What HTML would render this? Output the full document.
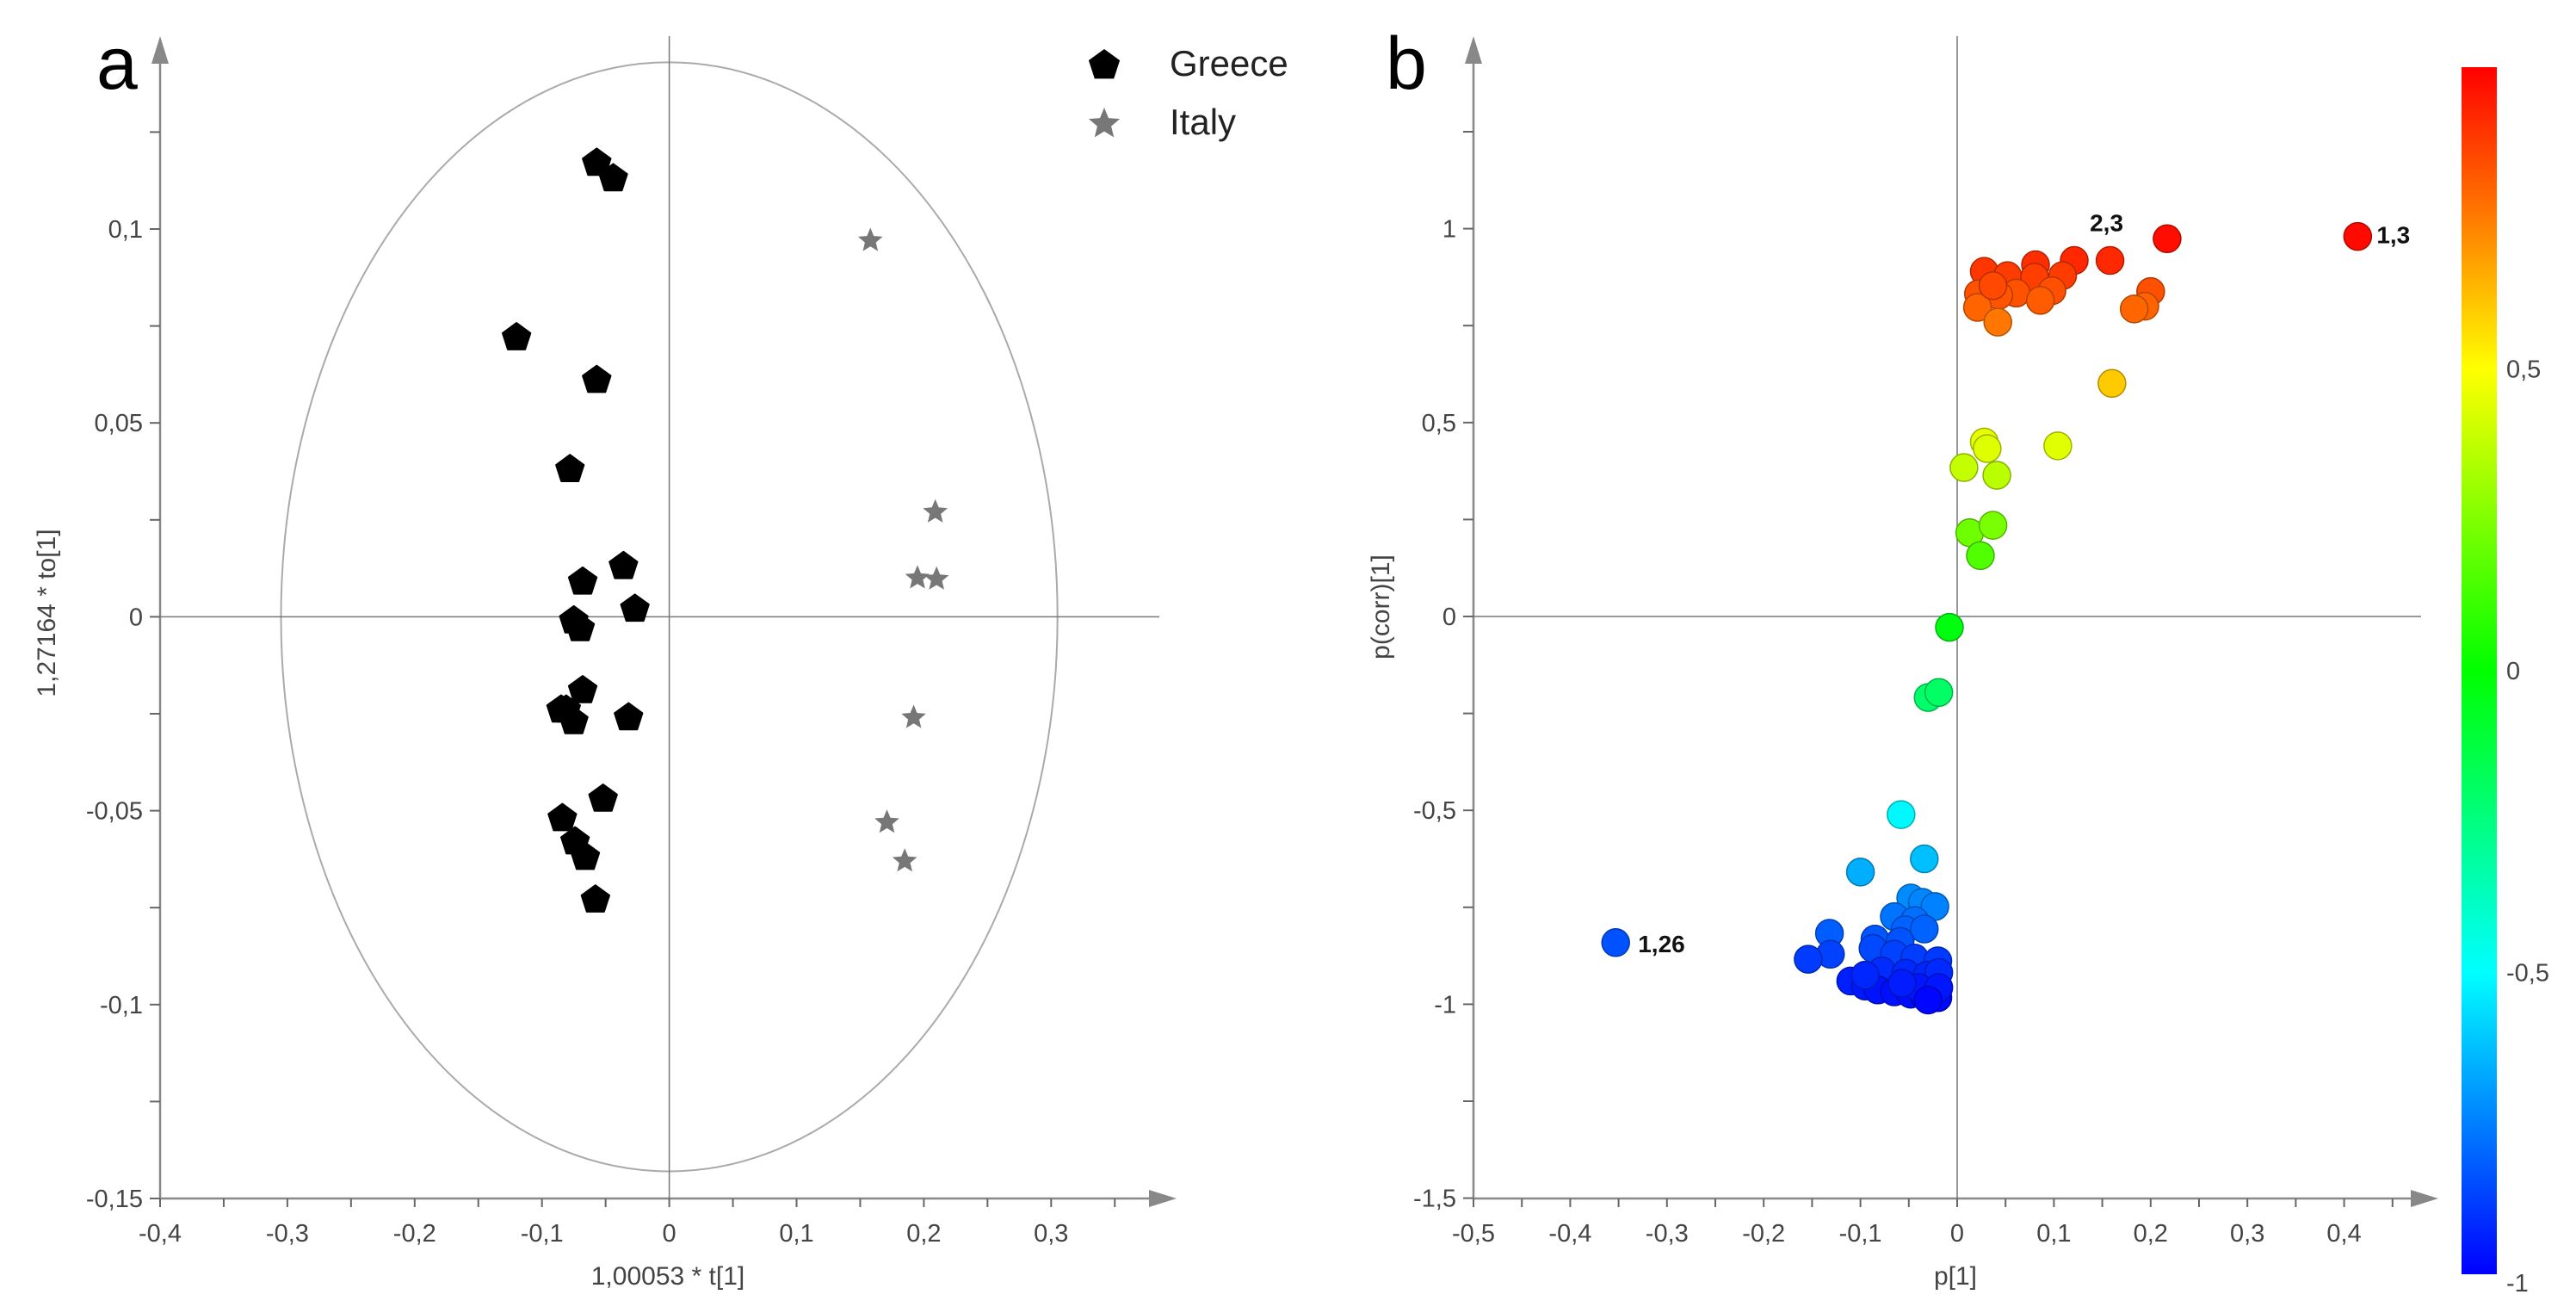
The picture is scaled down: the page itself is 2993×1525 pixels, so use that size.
<!DOCTYPE html>
<html><head><meta charset="utf-8"><style>
html,body{margin:0;padding:0;background:#fff;}
svg{display:block;font-family:"Liberation Sans",sans-serif;}
</style></head><body>
<svg id="chart" width="2993" height="1525" viewBox="0 0 2993 1525" xmlns="http://www.w3.org/2000/svg">
<defs>
<linearGradient id="jet" x1="0" y1="1" x2="0" y2="0">
<stop offset="0" stop-color="#0000ff"/>
<stop offset="0.25" stop-color="#00ffff"/>
<stop offset="0.5" stop-color="#00ff00"/>
<stop offset="0.75" stop-color="#ffff00"/>
<stop offset="0.87" stop-color="#ff8000"/>
<stop offset="1" stop-color="#ff0000"/>
</linearGradient>
</defs>
<g id="pa"></g>
<g id="pb"></g>
</svg>
<script>
// ---- Panel a data ----
const greeceX = [-0.057,-0.044,-0.120,-0.057,-0.078,-0.036,-0.068,-0.027,-0.075,-0.070,-0.068,-0.032,-0.085,-0.075,-0.081,-0.052,-0.084,-0.074,-0.066,-0.058];
const greeceY = [0.117,0.113,0.072,0.061,0.038,0.013,0.009,0.002,-0.001,-0.003,-0.019,-0.026,-0.024,-0.027,-0.024,-0.047,-0.052,-0.058,-0.062,-0.073];
const italyX = [0.158,0.209,0.195,0.210,0.192,0.171,0.185];
const italyY = [0.097,0.027,0.010,0.0097,-0.026,-0.053,-0.063];
const aXTicks = [-0.4,-0.3,-0.2,-0.1,0,0.1,0.2,0.3];
const aXTickLabels = ["-0,4","-0,3","-0,2","-0,1","0","0,1","0,2","0,3"];
const aYTicks = [-0.15,-0.1,-0.05,0,0.05,0.1];
const aYTickLabels = ["-0,15","-0,1","-0,05","0","0,05","0,1"];
const ellipseRX = [0.305];
const ellipseRY = [0.143];
// ---- Panel b data ----
const bX = [0.414,0.217,0.158,0.121,0.081,0.028,0.052,0.109,0.080,0.061,0.022,0.043,0.098,0.086,0.021,0.042,0.200,0.194,0.183,0.037,0.160,0.028,0.031,0.104,0.007,0.041,0.013,0.037,0.024,-0.008,-0.030,-0.019,-0.058,-0.034,-0.100,-0.048,-0.036,-0.023,-0.065,-0.044,-0.054,-0.034,-0.085,-0.059,-0.132,-0.131,-0.154,-0.087,-0.065,-0.044,-0.020,-0.078,-0.053,-0.031,-0.019,-0.110,-0.095,-0.082,-0.065,-0.048,-0.034,-0.020,-0.040,-0.057,-0.019,-0.030,-0.095,-0.353];
const bY = [0.980,0.974,0.918,0.918,0.907,0.890,0.879,0.879,0.875,0.834,0.832,0.828,0.840,0.815,0.797,0.759,0.838,0.800,0.793,0.853,0.601,0.450,0.433,0.440,0.384,0.364,0.216,0.235,0.157,-0.028,-0.209,-0.196,-0.511,-0.625,-0.659,-0.726,-0.737,-0.748,-0.774,-0.784,-0.808,-0.806,-0.832,-0.838,-0.817,-0.871,-0.884,-0.856,-0.871,-0.881,-0.888,-0.914,-0.920,-0.925,-0.918,-0.940,-0.953,-0.963,-0.968,-0.974,-0.978,-0.983,-0.957,-0.946,-0.957,-0.989,-0.925,-0.841];
const bXTicks = [-0.5,-0.4,-0.3,-0.2,-0.1,0,0.1,0.2,0.3,0.4];
const bXTickLabels = ["-0,5","-0,4","-0,3","-0,2","-0,1","0","0,1","0,2","0,3","0,4"];
const bYTicks = [-1.5,-1,-0.5,0,0.5,1];
const bYTickLabels = ["-1,5","-1","-0,5","0","0,5","1"];
const cbTicks = [-1,-0.5,0,0.5];
const cbTickLabels = ["-1","-0,5","0","0,5"];
const annoLabels = ["1,3","2,3","1,26"];
const annoIdx = [0,2,67];

const NS="http://www.w3.org/2000/svg";
function mk(parent,tag,attrs,text){const e=document.createElementNS(NS,tag);for(const k in attrs)e.setAttribute(k,attrs[k]);if(text!==undefined)e.textContent=text;parent.appendChild(e);return e;}

// scales
const ax = v => 186 + (v+0.4)*1479;
const ay = v => 716.4 - v*4504;
const bx = v => 1712 + (v+0.5)*1124;
const by = v => 716 - v*450.4;
const cby = v => 1480 - (v+1)*701;

function jet(v){const t=(v+1)/2;const stops=[[0,[0,0,255]],[0.25,[0,255,255]],[0.5,[0,255,0]],[0.75,[255,255,0]],[0.87,[255,128,0]],[1,[255,0,0]]];
for(let i=0;i<stops.length-1;i++){const a=stops[i],b=stops[i+1];if(t<=b[0]){const f=(t-a[0])/(b[0]-a[0]);const c=a[1].map((x,j)=>Math.round(x+(b[1][j]-x)*f));return c;}}return [255,0,0];}

function axes(g,x0,yBase,xEnd,yTop,zx,zy){
  let e=mk(g,'line',{x1:x0,y1:yBase,x2:xEnd-28,y2:yBase,stroke:'#888','stroke-width':2.5});
  
  e=mk(g,'polygon',{points:`${xEnd},${yBase} ${xEnd-32},${yBase-10} ${xEnd-32},${yBase+10}`,fill:'#888'});
  
  e=mk(g,'line',{x1:x0,y1:yBase,x2:x0,y2:yTop+28,stroke:'#888','stroke-width':2.5});
  
  e=mk(g,'polygon',{points:`${x0},${yTop} ${x0-10},${yTop+32} ${x0+10},${yTop+32}`,fill:'#888'});
  
  e=mk(g,'line',{x1:zx,y1:yTop,x2:zx,y2:yBase,stroke:'#777','stroke-width':1.5});
  
  e=mk(g,'line',{x1:x0,y1:zy,x2:xEnd-20,y2:zy,stroke:'#777','stroke-width':1.5});
  
}
function ticks(g,sx,sy,xt,xl,yt,yl,x0,yBase,xStep,yStep,xMax,yMax){
  for(let v=xt[0];v<=xMax+1e-9;v+=xStep){const X=sx(v);const e=mk(g,'line',{x1:X,y1:yBase,x2:X,y2:yBase+10,stroke:'#666','stroke-width':2});}
  for(let v=yt[0];v<=yMax+1e-9;v+=yStep){const Y=sy(v);const e=mk(g,'line',{x1:x0-12,y1:Y,x2:x0,y2:Y,stroke:'#666','stroke-width':2});}
  xt.forEach((v,i)=>{const e=mk(g,'text',{x:sx(v),y:1442,'font-size':29,fill:'#444','text-anchor':'middle'},xl[i]);});
  yt.forEach((v,i)=>{const e=mk(g,'text',{x:x0-20,y:sy(v)+10,'font-size':29,fill:'#444','text-anchor':'end'},yl[i]);});
}
function pentagon(cx,cy,r){let p=[];for(let i=0;i<5;i++){const a=-Math.PI/2+i*2*Math.PI/5;p.push((cx+r*Math.cos(a)).toFixed(1)+','+(cy+r*Math.sin(a)).toFixed(1));}return p.join(' ');}
function star(cx,cy,r){let p=[];for(let i=0;i<10;i++){const a=-Math.PI/2+i*Math.PI/5;const rr=i%2?r*0.45:r;p.push((cx+rr*Math.cos(a)).toFixed(1)+','+(cy+rr*Math.sin(a)).toFixed(1));}return p.join(' ');}

// ---- Panel a ----
const ga=document.getElementById('pa');
let el=mk(ga,'ellipse',{cx:ax(0),cy:ay(0),rx:ellipseRX[0]*1479,ry:ellipseRY[0]*4504,fill:'none',stroke:'#aaa','stroke-width':2});


axes(ga,186,1392,1367,42,ax(0),ay(0));
ticks(ga,ax,ay,aXTicks,aXTickLabels,aYTicks,aYTickLabels,186,1392,0.05,0.025,0.35,0.125);
greeceX.forEach((v,i)=>{const e=mk(ga,'polygon',{points:pentagon(ax(v),ay(greeceY[i]),17),fill:'#000',stroke:'#000','stroke-width':2,'stroke-linejoin':'round'});

});
italyX.forEach((v,i)=>{const e=mk(ga,'polygon',{points:star(ax(v),ay(italyY[i]),15),fill:'#777'});

});
el=mk(ga,'text',{x:776,y:1492,'font-size':30,fill:'#444','text-anchor':'middle'},'1,00053 * t[1]');

el=mk(ga,'text',{x:0,y:0,'font-size':30,fill:'#444','text-anchor':'middle',transform:'translate(64,712) rotate(-90)'},'1,27164 * to[1]');

el=mk(ga,'text',{x:112,y:103,'font-size':86,fill:'#000'},'a');

// legend
el=mk(ga,'polygon',{points:pentagon(1283,76,19),fill:'#000'});

el=mk(ga,'text',{x:1359,y:88,'font-size':42,fill:'#222'},'Greece');

el=mk(ga,'polygon',{points:star(1283,144,19),fill:'#777'});

el=mk(ga,'text',{x:1359,y:156,'font-size':42,fill:'#222'},'Italy');


// ---- Panel b ----
const gb=document.getElementById('pb');
axes(gb,1712,1392,2833,42,bx(0),by(0));
ticks(gb,bx,by,bXTicks,bXTickLabels,bYTicks,bYTickLabels,1712,1392,0.05,0.25,0.45,1.25);
bX.forEach((v,i)=>{const c=jet(bY[i]);const d=c.map(x=>Math.round(x*0.7));
const e=mk(gb,'circle',{cx:bx(v),cy:by(bY[i]),r:16,fill:`rgb(${c})`,stroke:`rgb(${d})`,'stroke-width':1.5});

});
const annoDX=[22,-4,26], annoDY=[-2,-44,1], annoAnchor=['start','middle','start'];
annoIdx.forEach((k,i)=>{const e=mk(gb,'text',{x:bx(bX[k])+annoDX[i],y:by(bY[k])+annoDY[i]+10,'font-size':28,'font-weight':'bold',fill:'#111','text-anchor':annoAnchor[i]},annoLabels[i]);

});
el=mk(gb,'text',{x:2272,y:1492,'font-size':30,fill:'#444','text-anchor':'middle'},'p[1]');

el=mk(gb,'text',{x:0,y:0,'font-size':30,fill:'#444','text-anchor':'middle',transform:'translate(1614,705) rotate(-90)'},'p(corr)[1]');

el=mk(gb,'text',{x:1610,y:103,'font-size':86,fill:'#000'},'b');

// colorbar
el=mk(gb,'rect',{x:2860,y:cby(1),width:41,height:cby(-1)-cby(1),fill:'url(#jet)'});

cbTicks.forEach((v,i)=>{const e=mk(gb,'text',{x:2912,y:cby(v)+10+(v===-1?10:0),'font-size':29,fill:'#444'},cbTickLabels[i]);

});
</script>
</body></html>
